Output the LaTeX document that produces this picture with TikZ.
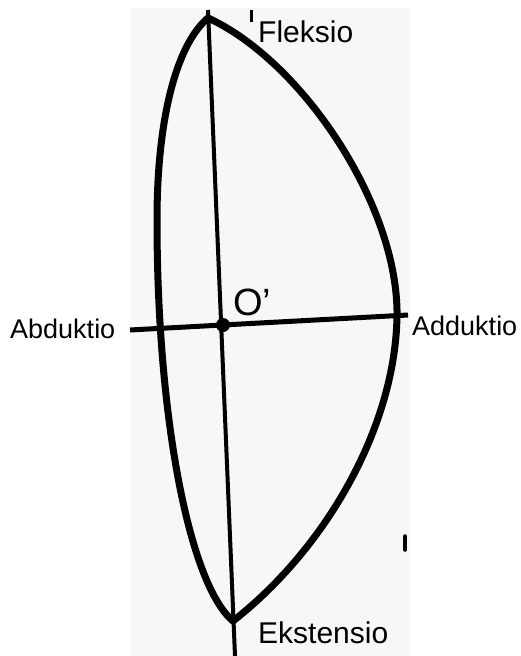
\documentclass[tikz,border=0pt]{standalone}
\usepackage{fontspec}
\setmainfont{Liberation Sans}
\begin{document}
\begin{tikzpicture}[x=1pt,y=-1pt,
  outline/.style={line width=7pt,line join=round,line cap=round},
  vaxis/.style={line width=4pt},
  haxis/.style={line width=5pt},
  lbl/.style={inner sep=0pt,anchor=base west,font=\fontsize{30}{34}\selectfont},
  lbls/.style={inner sep=0pt,anchor=base west,font=\fontsize{27}{31}\selectfont}]
\useasboundingbox (0,0) rectangle (520,656);
\fill[fill={rgb,255:red,248;green,246;blue,248}] (130,8) rectangle (410,656);
% named points
\coordinate (apex) at (208,18);
\coordinate (bot) at (233,621);
\coordinate (lft) at (157,220);
\coordinate (rgt) at (397,310);
\coordinate (vtop) at (208,10);
\coordinate (vbot) at (235,656);
\coordinate (hl) at (130,330);
\coordinate (hr) at (408,315);
\coordinate (O) at (223,325);
% outline
\draw[outline] (apex) .. controls (176,45) and (157,120) .. (lft)
               .. controls (157,420) and (190,585) .. (bot);
\draw[outline] (apex) .. controls (300,60) and (395,200) .. (rgt)
               .. controls (398,420) and (330,545) .. (bot);
% axes
\draw[vaxis] (vtop) -- (vbot);
\draw[haxis] (hl) -- (hr);
\fill (O) circle (7pt);
% small scan marks
\draw[line width=3pt] (251,10) -- (251,22);
\draw[line width=3.5pt,line cap=round] (405,536) -- (405,550);
% labels
\node[font=\fontsize{38}{40}\selectfont,inner sep=0pt,anchor=base west] (olbl) at (233,315) {O\textquoteright};
\node[lbl] (fl) at (258,42) {Fleksio};
\node[lbl] (ek) at (258,643) {Ekstensio};
\node[lbls] (ab) at (10,338) {Abduktio};
\node[lbls] (ad) at (412,335) {Adduktio};
\end{tikzpicture}
\end{document}
